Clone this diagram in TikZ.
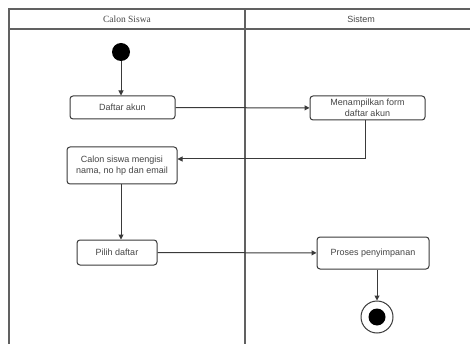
\documentclass[tikz,border=0pt]{standalone}
\usepackage{fontspec}
\setmainfont{Liberation Sans}
\newfontfamily\headserif{Liberation Serif}
\usetikzlibrary{arrows.meta}
\definecolor{ink}{HTML}{3A3A3A}
\definecolor{txt}{HTML}{454545}
\begin{document}
\begin{tikzpicture}[x=1pt,y=-1pt,
  every node/.style={inner sep=0pt},
  act/.style={draw=ink, line width=1pt, rounded corners=3pt, fill=white,
    text=txt, font=\fontsize{9}{10.5}\selectfont, align=center},
  flow/.style={draw=ink, line width=1pt, -{Triangle[length=5pt,width=5pt]}},
  lane/.style={draw=ink!80, line width=1.1pt}]
\useasboundingbox (0,0) rectangle (470,344);
% swimlane frame
\draw[lane] (9,344) -- (9,9) -- (470,9);
\draw[lane] (9,29) -- (470,29);
\draw[lane] (245,9) -- (245,344);
\node[font=\headserif\fontsize{9.5}{11}\selectfont, text=txt] (laneA) at (127,19) {Calon Siswa};
\node[font=\fontsize{9}{11}\selectfont, text=txt] (laneB) at (361,19) {Sistem};
% start and end states
\node[circle, fill=black, minimum size=18pt] (start) at (121,52) {};
\node[circle, draw=ink, line width=1pt, fill=white, minimum size=32pt] (stop) at (377,317) {};
\node[circle, fill=black, minimum size=17pt] (stopdot) at (377,317) {};
% actions
\node[act, minimum width=105pt, minimum height=23pt] (daftar) at (122.5,107.5) {Daftar akun};
\node[act, minimum width=115pt, minimum height=24pt] (form) at (367.5,108) {Menampilkan form\\daftar akun};
\node[act, minimum width=110pt, minimum height=37pt] (isi) at (122,165.5) {Calon siswa mengisi\\nama, no hp dan email};
\node[act, minimum width=80pt, minimum height=25pt] (pilih) at (117,252.5) {Pilih daftar};
\node[act, minimum width=112pt, minimum height=32pt] (proses) at (373,253) {Proses penyimpanan};
% control flow
\draw[flow] (start) -- (start |- daftar.north);
\draw[flow] (daftar) -- (form);
\draw[flow] (form.south -| 365,0) |- (isi.east |- 0,159);
\draw[flow] (isi.south -| 121,0) -- (pilih.north -| 121,0);
\draw[flow] (pilih) -- (proses);
\draw[flow] (proses.south -| stop) -- (stop);
\end{tikzpicture}
\end{document}
